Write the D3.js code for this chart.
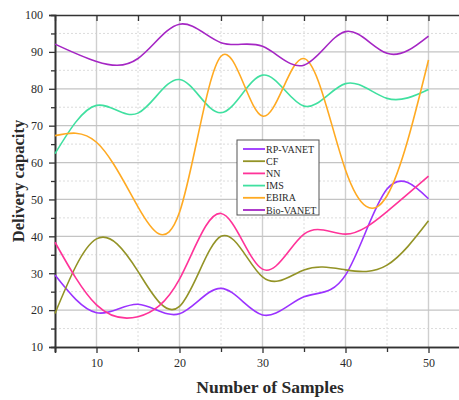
<!DOCTYPE html>
<html>
<head>
<meta charset="utf-8">
<script src="https://cdn.jsdelivr.net/npm/d3@7/dist/d3.min.js"></script>
<style>
  html, body { margin: 0; padding: 0; background: #fff; }
  svg { display: block; }
  text { font-family: "Liberation Serif", "DejaVu Serif", serif; fill: #2a2a2a; }
</style>
</head>
<body>
<svg id="chart" width="459" height="400"></svg>
<script>
// Sample counts on the x axis
const samples = [5, 10, 15, 20, 25, 30, 35, 40, 45, 50];

// Delivery capacity per method
const rpVanet  = [29.5, 19.3, 21.6, 19.0, 25.9, 18.7, 23.6, 29.5, 52.8, 50.2];
const cf       = [19.1, 39.3, 30.5, 21.0, 40.0, 29.0, 30.9, 30.9, 32.2, 44.2];
const nn       = [38.4, 21.4, 18.2, 28.4, 46.2, 31.1, 40.6, 40.6, 46.7, 56.3];
const ims      = [62.4, 75.5, 73.4, 82.5, 73.5, 83.7, 75.3, 81.4, 77.4, 79.8];
const ebira    = [67.3, 65.5, 48.0, 46.5, 88.8, 72.6, 88.2, 58.0, 51.0, 87.8];
const bioVanet = [92.1, 87.4, 88.2, 97.5, 92.5, 91.5, 86.4, 95.5, 89.6, 94.3];

const seriesNames  = ["RP-VANET", "CF", "NN", "IMS", "EBIRA", "Bio-VANET"];
const seriesValues = [rpVanet, cf, nn, ims, ebira, bioVanet];
const seriesColors = ["#9b33ff", "#939326", "#ff3399", "#40e0a0", "#ffaa22", "#a526c4"];

const xMajor = [10, 20, 30, 40, 50];
const xMinor = [5, 15, 25, 35, 45];
const yMajor = [10, 20, 30, 40, 50, 60, 70, 80, 90, 100];
const yMinor = [15, 25, 35, 45, 55, 65, 75, 85, 95];

const svg = d3.select("#chart");
const plotLeft = 55, plotRight = 470, plotTop = 15, plotBottom = 347;

const x = d3.scaleLinear().domain([5, 55]).range([plotLeft, plotRight]);
const y = d3.scaleLinear().domain([10, 100]).range([plotBottom, plotTop]);

// grid: dotted minor lines, solid major lines
const grid = svg.append("g");
grid.selectAll(".vminor").data(xMinor.filter(d => d > 5)).join("line")
  .attr("x1", d => x(d)).attr("x2", d => x(d)).attr("y1", plotTop).attr("y2", plotBottom)
  .attr("stroke", "#dcdcdc").attr("stroke-width", 1).attr("stroke-dasharray", "2,2");
grid.selectAll(".hminor").data(yMinor).join("line")
  .attr("x1", plotLeft).attr("x2", plotRight).attr("y1", d => y(d)).attr("y2", d => y(d))
  .attr("stroke", "#dcdcdc").attr("stroke-width", 1).attr("stroke-dasharray", "2,2");
grid.selectAll(".vmajor").data(xMajor).join("line")
  .attr("x1", d => x(d)).attr("x2", d => x(d)).attr("y1", plotTop).attr("y2", plotBottom)
  .attr("stroke", "#cfcfcf").attr("stroke-width", 1.4);
grid.selectAll(".hmajor").data(yMajor.filter(d => d > 10 && d < 100)).join("line")
  .attr("x1", plotLeft).attr("x2", plotRight).attr("y1", d => y(d)).attr("y2", d => y(d))
  .attr("stroke", "#c4c4c4").attr("stroke-width", 1.2);

// axes
const axisColor = "#333";
const xBottom = svg.append("g").attr("transform", `translate(0,${plotBottom})`)
  .call(d3.axisBottom(x).tickValues(xMajor).tickSize(6).tickPadding(5).tickFormat(d3.format("d")));
const xBottomMinor = svg.append("g").attr("transform", `translate(0,${plotBottom})`)
  .call(d3.axisBottom(x).tickValues(xMinor).tickSize(5).tickFormat(""));
const xTop = svg.append("g").attr("transform", `translate(0,${plotTop})`)
  .call(d3.axisTop(x).tickValues(xMajor.concat(xMinor)).tickSizeInner(-6).tickSizeOuter(0).tickFormat(""));
const yLeft = svg.append("g").attr("transform", `translate(${plotLeft},0)`)
  .call(d3.axisLeft(y).tickValues(yMajor).tickSize(6).tickPadding(6).tickFormat(d3.format("d")));
const yLeftMinor = svg.append("g").attr("transform", `translate(${plotLeft},0)`)
  .call(d3.axisLeft(y).tickValues(yMinor).tickSize(4).tickFormat(""));

[xBottom, xBottomMinor, xTop, yLeft, yLeftMinor].forEach(g => {
  g.select(".domain").attr("stroke", axisColor).attr("stroke-width", 1.6);
  g.selectAll(".tick line").attr("stroke", axisColor).attr("stroke-width", 1.3);
  g.selectAll(".tick text").attr("font-size", 12)
    .attr("font-family", "'Liberation Serif', serif").attr("fill", "#2a2a2a");
});

// series curves
const line = d3.line()
  .x((d, i) => x(samples[i]))
  .y(d => y(d))
  .curve(d3.curveNatural);

svg.append("g").selectAll("path").data(seriesValues).join("path")
  .attr("d", d => line(d))
  .attr("fill", "none")
  .attr("stroke", (d, i) => seriesColors[i])
  .attr("stroke-width", 1.6);

// axis titles
svg.append("text")
  .attr("x", 270).attr("y", 393)
  .attr("text-anchor", "middle")
  .attr("font-size", 17.5).attr("font-weight", "bold")
  .text("Number of Samples");

svg.append("text")
  .attr("transform", "translate(24,181) rotate(-90)")
  .attr("text-anchor", "middle")
  .attr("font-size", 16.5).attr("font-weight", "bold")
  .text("Delivery capacity");

// legend
const legend = svg.append("g");
legend.append("rect")
  .attr("x", 237).attr("y", 140).attr("width", 82).attr("height", 75)
  .attr("fill", "#fff").attr("stroke", "#555").attr("stroke-width", 1);
const rows = legend.selectAll("g.row").data(seriesNames).join("g")
  .attr("transform", (d, i) => `translate(0,${149 + i * 12.2})`);
rows.append("line")
  .attr("x1", 243).attr("x2", 265).attr("y1", 0).attr("y2", 0)
  .attr("stroke", (d, i) => seriesColors[i]).attr("stroke-width", 1.8);
rows.append("text")
  .attr("x", 266).attr("y", 0).attr("dy", "0.35em")
  .attr("font-size", 10)
  .text(d => d);
</script>
</body>
</html>
